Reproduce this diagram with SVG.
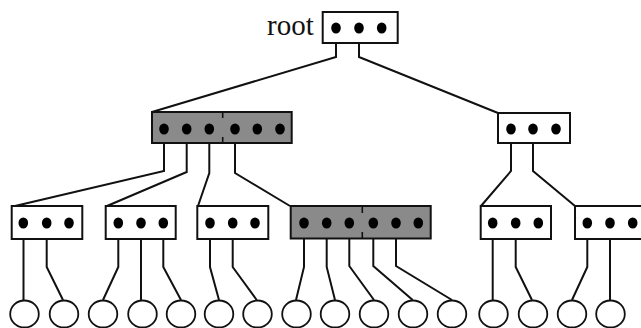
<svg xmlns="http://www.w3.org/2000/svg" width="641" height="328" viewBox="0 0 641 328">
<style>
.box{fill:#fff;stroke:#111;stroke-width:2}
.gbox{fill:#8a8a8a;stroke:#111;stroke-width:2}
.dot{fill:#000}
.leaf{fill:#fff;stroke:#111;stroke-width:1.8}
.edge{fill:none;stroke:#111;stroke-width:2;stroke-linejoin:miter}
.tick{stroke:#111;stroke-width:1.6}
.lbl{font-family:"Liberation Serif","Times New Roman",serif;font-size:29px;fill:#111}
</style>
<defs>
<ellipse id="d" class="dot" cx="0" cy="0" rx="4.8" ry="5.5"/>
</defs>
<rect width="641" height="328" fill="#fff"/>
<g id="connectors">
<polyline class="edge" points="336,28 336,57 152,112"/>
<polyline class="edge" points="359,28 359,57 498,113"/>
<polyline class="edge" points="164,129 164,171 15,206"/>
<polyline class="edge" points="186.7,129 186.7,172 107,206"/>
<polyline class="edge" points="209.3,129 209.3,173 198,206"/>
<polyline class="edge" points="235,129 235,173 290,206"/>
<polyline class="edge" points="511,129 511,171 481,206"/>
<polyline class="edge" points="533,129 533,171 575,206"/>
<polyline class="edge" points="23.5,223 23.5,300"/>
<polyline class="edge" points="46.7,223 46.7,267 63,300"/>
<polyline class="edge" points="118.3,223 118.3,267 103,300"/>
<polyline class="edge" points="141,223 141,300"/>
<polyline class="edge" points="163.3,223 163.3,267 181,300"/>
<polyline class="edge" points="210,223 210,267 219,300"/>
<polyline class="edge" points="232.7,223 232.7,267 256.7,300"/>
<polyline class="edge" points="304,223 304,267 296,300"/>
<polyline class="edge" points="326.7,223 326.7,267 335,300"/>
<polyline class="edge" points="349.3,223 349.3,266 374,300"/>
<polyline class="edge" points="373.3,223 373.3,266 412.7,300"/>
<polyline class="edge" points="396,223 396,266 452,300"/>
<polyline class="edge" points="492.7,223 492.7,300"/>
<polyline class="edge" points="515.7,223 515.7,267 532,300"/>
<polyline class="edge" points="587.3,223 587.3,267 572,300"/>
<polyline class="edge" points="610,223 610,300"/>
</g>
<g id="root">
<text class="lbl" x="267" y="35">root</text>
<rect class="box" x="322.7" y="12" width="75" height="31"/>
<use href="#d" x="336" y="28"/>
<use href="#d" x="359" y="28"/>
<use href="#d" x="381.7" y="28"/>
</g>
<g id="n1">
<rect class="gbox" x="152" y="112" width="139.7" height="31"/>
<line class="tick" x1="222.7" y1="112" x2="222.7" y2="118"/>
<line class="tick" x1="222.7" y1="137" x2="222.7" y2="143"/>
<use href="#d" x="164" y="129"/>
<use href="#d" x="186.7" y="129"/>
<use href="#d" x="209.3" y="129"/>
<use href="#d" x="235" y="129"/>
<use href="#d" x="257.3" y="129"/>
<use href="#d" x="280" y="129"/>
</g>
<g id="n2">
<rect class="box" x="498" y="113" width="72" height="30"/>
<use href="#d" x="511" y="129"/>
<use href="#d" x="533" y="129"/>
<use href="#d" x="556" y="129"/>
</g>
<g id="b1">
<rect class="box" x="11.7" y="206" width="70.6" height="33"/>
<use href="#d" x="23.3" y="223"/>
<use href="#d" x="46.7" y="223"/>
<use href="#d" x="69" y="223"/>
</g>
<g id="b2">
<rect class="box" x="105.7" y="206" width="70" height="33"/>
<use href="#d" x="118.3" y="223"/>
<use href="#d" x="141" y="223"/>
<use href="#d" x="163.3" y="223"/>
</g>
<g id="b3">
<rect class="box" x="197.3" y="206" width="71" height="33"/>
<use href="#d" x="210" y="223"/>
<use href="#d" x="232.7" y="223"/>
<use href="#d" x="255" y="223"/>
</g>
<g id="b4">
<rect class="gbox" x="290.7" y="206" width="140" height="32.5"/>
<line class="tick" x1="362.3" y1="206" x2="362.3" y2="213"/>
<line class="tick" x1="362.3" y1="232" x2="362.3" y2="238.5"/>
<use href="#d" x="304" y="223"/>
<use href="#d" x="326.7" y="223"/>
<use href="#d" x="349.3" y="223"/>
<use href="#d" x="373.3" y="223"/>
<use href="#d" x="396" y="223"/>
<use href="#d" x="418.3" y="223"/>
</g>
<g id="b5">
<rect class="box" x="480.7" y="206" width="70.3" height="33"/>
<use href="#d" x="492.7" y="223"/>
<use href="#d" x="515.7" y="223"/>
<use href="#d" x="538.3" y="223"/>
</g>
<g id="b6">
<rect class="box" x="575" y="206" width="72" height="33"/>
<use href="#d" x="587.3" y="223"/>
<use href="#d" x="610" y="223"/>
<use href="#d" x="632.7" y="223"/>
</g>
<g id="leaves">
<ellipse id="l1" class="leaf" cx="24.5" cy="314" rx="14.3" ry="13.5"/>
<ellipse id="l2" class="leaf" cx="64" cy="314" rx="14.3" ry="13.5"/>
<ellipse id="l3" class="leaf" cx="103" cy="314" rx="14.3" ry="13.5"/>
<ellipse id="l4" class="leaf" cx="142.5" cy="314" rx="14.3" ry="13.5"/>
<ellipse id="l5" class="leaf" cx="181" cy="314" rx="14.3" ry="13.5"/>
<ellipse id="l6" class="leaf" cx="219" cy="314" rx="14.3" ry="13.5"/>
<ellipse id="l7" class="leaf" cx="257.5" cy="314" rx="14.3" ry="13.5"/>
<ellipse id="l8" class="leaf" cx="296.5" cy="314" rx="14.3" ry="13.5"/>
<ellipse id="l9" class="leaf" cx="335" cy="314" rx="14.3" ry="13.5"/>
<ellipse id="l10" class="leaf" cx="374" cy="314" rx="14.3" ry="13.5"/>
<ellipse id="l11" class="leaf" cx="413" cy="314" rx="14.3" ry="13.5"/>
<ellipse id="l12" class="leaf" cx="452" cy="314" rx="14.3" ry="13.5"/>
<ellipse id="l13" class="leaf" cx="493.5" cy="314" rx="14.3" ry="13.5"/>
<ellipse id="l14" class="leaf" cx="533" cy="314" rx="14.3" ry="13.5"/>
<ellipse id="l15" class="leaf" cx="572" cy="314" rx="14.3" ry="13.5"/>
<ellipse id="l16" class="leaf" cx="610.5" cy="314" rx="14.3" ry="13.5"/>
</g>
</svg>
